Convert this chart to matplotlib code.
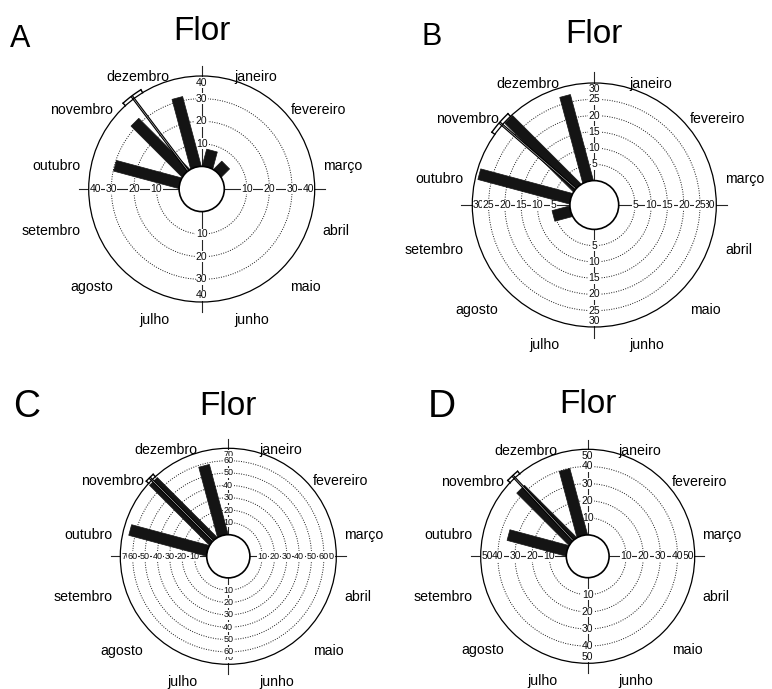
import numpy as np
import matplotlib
matplotlib.use("Agg")
import matplotlib.pyplot as plt
from matplotlib.patches import Circle, Polygon

plt.rcParams['font.family'] = ['Liberation Sans', 'DejaVu Sans']

# ---- data -------------------------------------------------------------
months = ["janeiro", "fevereiro", "março", "abril", "maio", "junho",
          "julho", "agosto", "setembro", "outubro", "novembro", "dezembro"]
month_angles = [15, 45, 75, 105, 135, 165, 195, 225, 255, 285, 315, 345]

freq_a = [7.6, 5.0, 0, 0, 0, 0, 0, 0, 0, 29.7, 31.8, 31.7]
freq_b = [0, 0, 0, 0, 0, 0, 0, 0, 5.5, 29.1, 29.7, 27.2]
freq_c = [0, 0, 0, 0, 0, 0, 0, 0, 0, 64.8, 68.3, 58.4]
freq_d = [0, 0, 0, 0, 0, 0, 0, 0, 0, 35.4, 42.9, 39.7]

scale_max = [40, 30, 70, 50]
scale_step = [10, 5, 10, 10]
mean_angle = [323, 311, 315, 317]
mean_ci = [5.5, 5.6, 2.5, 3.5]
panel_letters = ["A", "B", "C", "D"]
panel_title = "Flor"

# ---- layout (pixels) --------------------------------------------------
W, H = 772, 689
centers = [(201.7, 189.0), (594.3, 205.0), (228.3, 556.3), (587.7, 556.3)]
radii = [113, 122, 108, 107]
title_base = [40, 43.3, 415, 413.3]
letter_pos = [(10, 46.7, 22), (421, 45, 22), (12.7, 416.7, 27), (427.7, 416.7, 28)]
tick_fs = [7.5, 7.5, 6.5, 7.5]

HOLE = 0.2        # inner blank disk, fraction of the outer radius
BAR_PX = 11       # bar thickness in pixels
SPAN = 1.6

fig = plt.figure(figsize=(W / 100, H / 100), dpi=100)


def radius(v, vmax):
    return HOLE + (1 - HOLE) * v / vmax


def draw_rose(i, freqs):
    cx, cy = centers[i]
    R = radii[i]
    vmax = scale_max[i]
    step = scale_step[i]
    ax = fig.add_axes([(cx - SPAN * R) / W, (H - cy - SPAN * R) / H,
                       2 * SPAN * R / W, 2 * SPAN * R / H])
    ax.set_xlim(-SPAN, SPAN)
    ax.set_ylim(-SPAN, SPAN)
    ax.set_aspect('equal')
    ax.axis('off')
    ax.patch.set_visible(False)

    ticks = np.arange(step, vmax + step / 2, step)

    # dotted reference rings
    for t in ticks[:-1]:
        ax.add_patch(Circle((0, 0), radius(t, vmax), fill=False,
                            ls=(0, (1, 1.5)), lw=0.7, ec='0.1', zorder=1))
    # cross axes
    ext = 1.09
    ax.plot([-ext, ext], [0, 0], color='0.15', lw=0.8, zorder=1.5)
    ax.plot([0, 0], [-ext, ext], color='0.15', lw=0.8, zorder=1.5)

    # scale labels on the four half-axes
    for j, t in enumerate(ticks[::-1]):
        r = 1 - 6.5 / R if t == vmax else radius(t, vmax)
        z = 2.0 + 0.01 * j
        for (x, y) in [(-r, 0), (r, 0), (0, r), (0, -r)]:
            ax.text(x, y, f"{t:g}", ha='center', va='center',
                    fontsize=tick_fs[i], color='0.05', zorder=z,
                    bbox=dict(fc='white', ec='none', pad=0.3))

    # bars
    hw = BAR_PX / 2 / R
    for ang, v in zip(month_angles, freqs):
        if v <= 0:
            continue
        th = np.deg2rad(ang)
        u = np.array([np.sin(th), np.cos(th)])
        p = np.array([np.cos(th), -np.sin(th)])
        r = radius(v, vmax)
        pts = [hw * p, r * u + hw * p, r * u - hw * p, -hw * p]
        ax.add_patch(Polygon(pts, closed=True, fc='#141414', ec='#141414',
                             lw=0.5, zorder=3))

    # mean vector with confidence bracket
    rm = 1.03
    th = np.deg2rad(mean_angle[i])
    ax.plot([0, rm * np.sin(th)], [0, rm * np.cos(th)], color='black',
            lw=2.0, solid_capstyle='butt', zorder=4)
    ax.plot([0, rm * np.sin(th)], [0, rm * np.cos(th)], color='white',
            lw=0.3, solid_capstyle='butt', zorder=4.1)
    arc = np.deg2rad(np.linspace(mean_angle[i] - mean_ci[i],
                                 mean_angle[i] + mean_ci[i], 30))
    ax.plot(rm * np.sin(arc), rm * np.cos(arc), color='black', lw=1.0,
            zorder=4.2)
    tick_in = 3.5 / R
    for a in (arc[0], arc[-1]):
        ax.plot([rm * np.sin(a), (rm - tick_in) * np.sin(a)],
                [rm * np.cos(a), (rm - tick_in) * np.cos(a)],
                color='black', lw=1.0, zorder=4.2)

    # central blank disk and outer circle
    ax.add_patch(Circle((0, 0), HOLE, fc='white', ec='black', lw=1.2,
                        zorder=5))
    ax.add_patch(Circle((0, 0), 1.0, fill=False, ec='black', lw=0.9,
                        zorder=6))

    # month names
    for name, ang in zip(months, month_angles):
        th = np.deg2rad(ang)
        x = 1.11 * np.sin(th)
        y = 1.11 * np.cos(th) - 9.5 / R
        ax.text(x, y, name, ha='left' if x > 0 else 'right', va='center',
                fontsize=10.2, color='black', clip_on=False, zorder=7)

    # title and panel letter
    fig.text(cx / W, 1 - title_base[i] / H, panel_title, ha='center',
             va='baseline', fontsize=24)
    lx, lb, lfs = letter_pos[i]
    fig.text(lx / W, 1 - lb / H, panel_letters[i], ha='left',
             va='baseline', fontsize=lfs)


for k, f in enumerate([freq_a, freq_b, freq_c, freq_d]):
    draw_rose(k, f)

fig.savefig("out.png", dpi=100, facecolor='white')
